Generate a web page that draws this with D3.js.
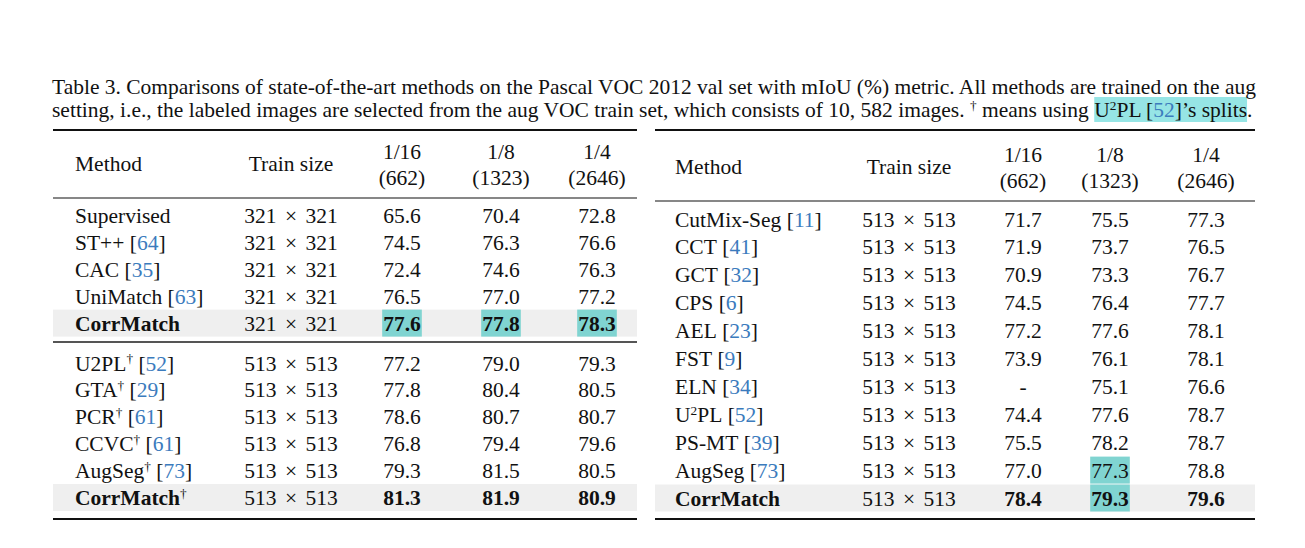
<!DOCTYPE html>
<html>
<head>
<meta charset="utf-8">
<script src="https://cdn.jsdelivr.net/npm/d3@7"></script>
<style>
  html, body { margin: 0; padding: 0; background: #fff; }
  svg { display: block; font-family: "Liberation Serif", "Times New Roman", serif; }
</style>
</head>
<body>
<svg id="chart" width="1305" height="548"></svg>
<script>
// ---- data ----
const fractions = ["1/16", "1/8", "1/4"];
const counts = ["(662)", "(1323)", "(2646)"];

// left table: methods written as [name, dagger, citation]
const leftMethods = [
	["Supervised", false, null], ["ST++", false, "64"], ["CAC", false, "35"], ["UniMatch", false, "63"], ["CorrMatch", false, null],
	["U2PL", true, "52"], ["GTA", true, "29"], ["PCR", true, "61"], ["CCVC", true, "61"], ["AugSeg", true, "73"], ["CorrMatch", true, null]
];
const leftSizes = ["321", "321", "321", "321", "321", "513", "513", "513", "513", "513", "513"];
const left16 = ["65.6", "74.5", "72.4", "76.5", "77.6", "77.2", "77.8", "78.6", "76.8", "79.3", "81.3"];
const left8 = ["70.4", "76.3", "74.6", "77.0", "77.8", "79.0", "80.4", "80.7", "79.4", "81.5", "81.9"];
const left4 = ["72.8", "76.6", "76.3", "77.2", "78.3", "79.3", "80.5", "80.7", "79.6", "80.5", "80.9"];
const leftSection = [0, 0, 0, 0, 0, 1, 1, 1, 1, 1, 1];
const leftBold = [4, 10];
const leftMarked = [[4, 0], [4, 1], [4, 2]];

const rightMethods = [
	["CutMix-Seg", false, "11"], ["CCT", false, "41"], ["GCT", false, "32"], ["CPS", false, "6"], ["AEL", false, "23"],
	["FST", false, "9"], ["ELN", false, "34"], ["U²PL", false, "52"], ["PS-MT", false, "39"], ["AugSeg", false, "73"], ["CorrMatch", false, null]
];
const rightSizes = ["513", "513", "513", "513", "513", "513", "513", "513", "513", "513", "513"];
const right16 = ["71.7", "71.9", "70.9", "74.5", "77.2", "73.9", "-", "74.4", "75.5", "77.0", "78.4"];
const right8 = ["75.5", "73.7", "73.3", "76.4", "77.6", "76.1", "75.1", "77.6", "78.2", "77.3", "79.3"];
const right4 = ["77.3", "76.5", "76.7", "77.7", "78.1", "78.1", "76.6", "78.7", "78.7", "78.8", "79.6"];
const rightBold = [10];
const rightMarked = [[9, 1], [10, 1]];

const captionLine1 = "Table 3. Comparisons of state-of-the-art methods on the Pascal VOC 2012 val set with mIoU (%) metric. All methods are trained on the aug";
const captionLine2 = "setting, i.e., the labeled images are selected from the aug VOC train set, which consists of 10, 582 images. ";

// ---- style ----
const FS = 21.5;
const CITE = "#3b7bbd";
const MARK = "#80d4d1";
const CAP_MARK = "#96e5e5";
const BAND = "#efefef";

const svg = d3.select("#chart");
const gBack = svg.append("g");
const gText = svg.append("g");

// lay out a run of segments on one baseline, return start/end x
function run(g, x, y, segs, size, anchor) {
	const grp = g.append("g");
	let cx = 0;
	segs.forEach(s => {
		const fs = s.sup ? size * 0.62 : size;
		cx += s.padL || 0;
		const t = grp.append("text")
			.attr("x", cx)
			.attr("y", s.sup ? -size * 0.33 : 0)
			.attr("font-size", fs)
			.attr("font-weight", s.bold ? "bold" : null)
			.attr("fill", s.cite ? CITE : "#111")
			.style("white-space", "pre")
			.text(s.t);
		cx += t.node().getComputedTextLength() + (s.pad || 0);
	});
	let x0 = x;
	if (anchor === "middle") x0 = x - cx / 2;
	grp.attr("transform", `translate(${x0},${y})`);
	return { x0: x0, x1: x0 + cx };
}

function methodSegs(m, bold) {
	const segs = [];
	if (m[0] === "U²PL") {
		segs.push({ t: "U" }, { t: "2", sup: true }, { t: "PL" });
	} else {
		segs.push({ t: m[0], bold: bold });
	}
	if (m[1]) segs.push({ t: "†", sup: true });
	if (m[2]) segs.push({ t: " [" }, { t: m[2], cite: true }, { t: "]" });
	return segs;
}

function sizeSegs(s) {
	return [{ t: s + " ", pad: 3 }, { t: "×", pad: 3 }, { t: " " + s }];
}

// ---- caption ----
(function caption() {
	const xL = 52, xR = 1256, cs = FS;
	const t1 = gText.append("text").attr("x", xL).attr("y", 94)
		.attr("font-size", cs).attr("fill", "#111").text(captionLine1);
	const w = t1.node().getComputedTextLength();
	const gaps = captionLine1.split(" ").length - 1;
	t1.attr("word-spacing", (xR - xL - w) / gaps);

	const r = run(gText, xL, 117, [
		{ t: captionLine2 }, { t: "†", sup: true }, { t: " means using " }
	], cs, "start");
	const r2 = run(gText, r.x1, 117, [
		{ t: "U" }, { t: "2", sup: true }, { t: "PL [" }, { t: "52", cite: true }, { t: "]’s splits" }
	], cs, "start");
	gBack.append("rect").attr("x", r2.x0).attr("y", 97).attr("width", r2.x1 - r2.x0).attr("height", 25)
		.attr("fill", CAP_MARK);
	run(gText, r2.x1, 117, [{ t: "." }], cs, "start");
})();

// ---- table drawing ----
function drawTable(cfg) {
	const n = cfg.methods.length;
	const x = d3.scaleOrdinal().domain(["size", "c0", "c1", "c2"]).range(cfg.cols);
	const y = d3.scaleLinear().domain([0, 1]).range([cfg.y0, cfg.y0 + cfg.step]);
	const rowY = i => y(i) + (cfg.section ? cfg.section[i] * cfg.sectionGap : 0);
	const vals = [cfg.v16, cfg.v8, cfg.v4];
	const off = 7.5; // centre to baseline

	// rules
	const rule = (yy, w, c) => gText.append("line").attr("x1", cfg.x0).attr("x2", cfg.x1)
		.attr("y1", yy).attr("y2", yy).attr("stroke", c || "#111").attr("stroke-width", w);
	rule(cfg.top, 2.2);
	rule(cfg.head, 1.1);
	rule(cfg.bottom, 2.2);
	if (cfg.mid) rule(cfg.mid, 2, "#555");

	// header
	run(gText, cfg.methodX, cfg.headY + off, [{ t: "Method" }], FS, "start");
	run(gText, x("size"), cfg.headY + off, [{ t: "Train size" }], FS, "middle");
	fractions.forEach((f, j) => {
		run(gText, x("c" + j), cfg.headY - 12 + off, [{ t: f }], FS, "middle");
		run(gText, x("c" + j), cfg.headY + 14 + off, [{ t: counts[j] }], FS, "middle");
	});

	// rows
	d3.range(n).forEach(i => {
		const yy = rowY(i);
		const bold = cfg.bold.includes(i);
		if (bold) {
			gBack.append("rect").attr("x", cfg.x0).attr("width", cfg.x1 - cfg.x0)
				.attr("y", yy - 13.5).attr("height", 27).attr("fill", BAND);
		}
		run(gText, cfg.methodX, yy + off, methodSegs(cfg.methods[i], bold), FS, "start");
		run(gText, x("size"), yy + off, sizeSegs(cfg.sizes[i]), FS, "middle");
		vals.forEach((v, j) => {
			const r = run(gText, x("c" + j), yy + off, [{ t: v[i], bold: bold }], FS, "middle");
			if (cfg.marked.some(m => m[0] === i && m[1] === j)) {
				gBack.append("rect").attr("x", r.x0 - 1).attr("width", r.x1 - r.x0 + 2)
					.attr("y", yy - 13.5).attr("height", 27).attr("fill", MARK);
			}
		});
	});
}

drawTable({
	methods: leftMethods, sizes: leftSizes, v16: left16, v8: left8, v4: left4,
	section: leftSection, sectionGap: 13, bold: leftBold, marked: leftMarked,
	x0: 53, x1: 637, methodX: 75, cols: [291, 402, 501, 597],
	top: 130, head: 198, mid: 342, bottom: 519, headY: 163,
	y0: 215.5, step: 26.9
});
drawTable({
	methods: rightMethods, sizes: rightSizes, v16: right16, v8: right8, v4: right4,
	bold: rightBold, marked: rightMarked,
	x0: 655, x1: 1255, methodX: 675, cols: [909, 1023, 1110, 1206],
	top: 130, head: 201, bottom: 519, headY: 166,
	y0: 219, step: 27.9
});
</script>
</body>
</html>
